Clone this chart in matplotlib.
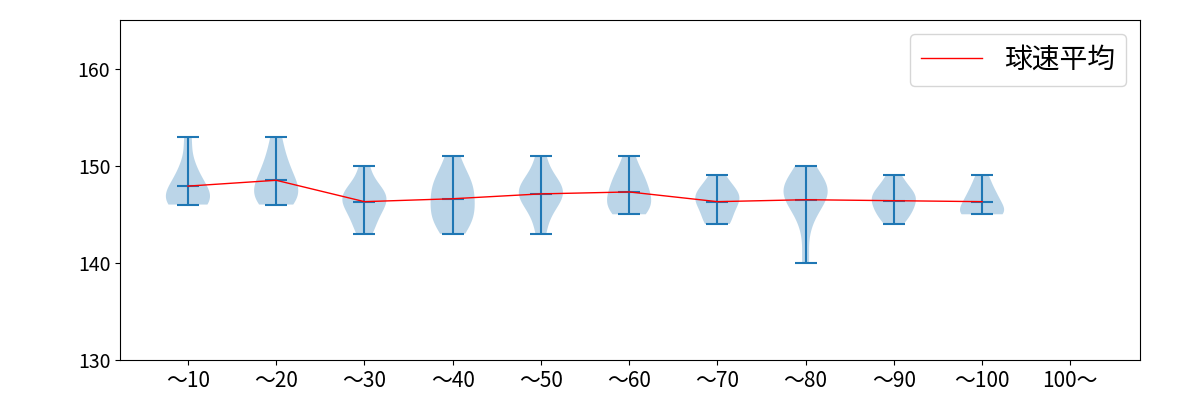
import numpy as np
import matplotlib.pyplot as plt

plt.rcParams['font.family'] = ['Noto Sans CJK JP', 'DejaVu Sans']

# 球数区分ごとの球速 (km/h)
labels = ['～10', '～20', '～30', '～40', '～50', '～60', '～70', '～80', '～90', '～100', '100～']
speeds = [
    [146, 146, 146, 147, 147, 147, 148, 149, 150, 153],
    [146, 146, 147, 147, 148, 148, 149, 150, 151, 153],
    [143, 144, 145, 146, 146, 147, 147, 148, 147, 150],
    [143, 144, 145, 145, 146, 147, 148, 149, 148, 151],
    [143, 145, 146, 147, 148, 148, 147, 149, 147, 151],
    [145, 145, 146, 146, 147, 147, 148, 149, 149, 151],
    [144, 145, 146, 146, 147, 147, 147, 148, 144, 149],
    [140, 144, 146, 147, 147, 148, 148, 147, 148, 150],
    [144, 145, 145, 146, 146, 147, 147, 147, 148, 149],
    [145, 145, 145, 145, 146, 146, 147, 147, 148, 149],
]

positions = list(range(1, len(speeds) + 1))
means = [np.mean(s) for s in speeds]

fig, ax = plt.subplots(figsize=(12, 4), dpi=100)
ax.violinplot(speeds, positions=positions, showmeans=True)
ax.plot(positions, means, color='red', linewidth=1, label='球速平均')

ax.set_xticks(range(1, len(labels) + 1))
ax.set_xticklabels(labels, fontsize=15)
ax.tick_params(axis='y', labelsize=14)
ax.set_ylim(130, 165)
ax.set_yticks([130, 140, 150, 160])
ax.set_xlim(0.23, 11.79)
ax.legend(loc='upper right', fontsize=20, handlelength=2.2)

plt.subplots_adjust(left=0.1, right=0.95, top=0.95, bottom=0.1)
plt.savefig('out.png')
